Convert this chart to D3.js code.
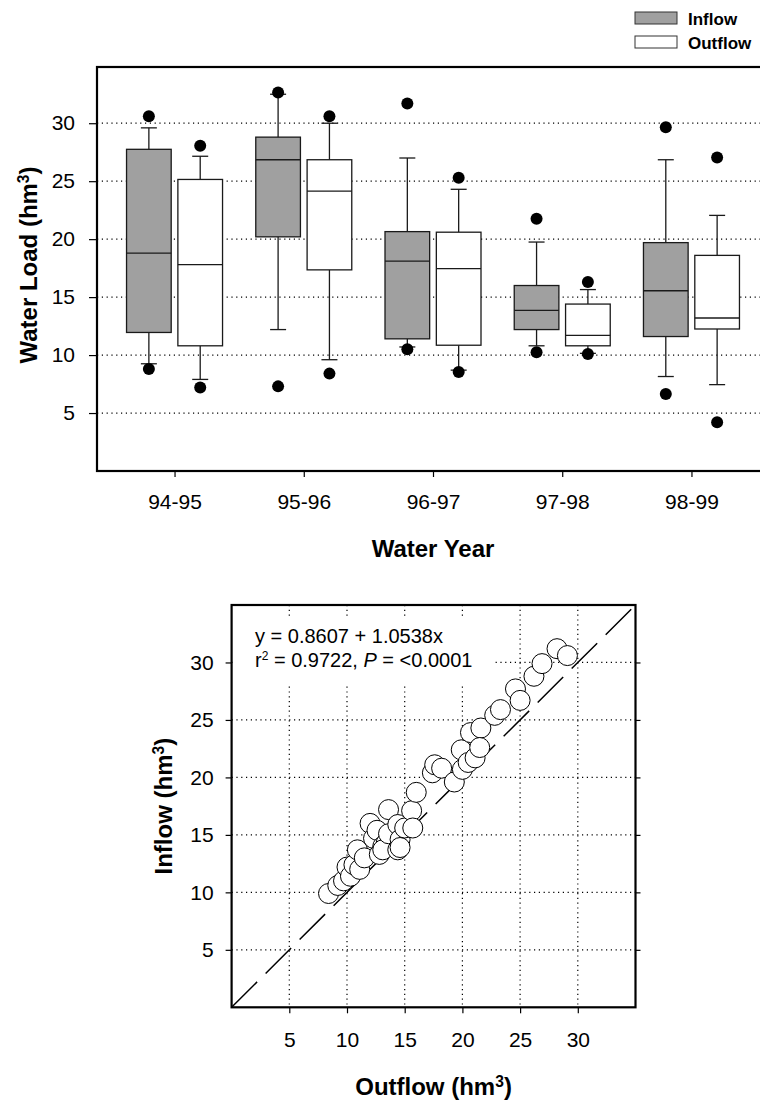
<!DOCTYPE html>
<html>
<head>
<meta charset="utf-8">
<script src="https://cdn.jsdelivr.net/npm/d3@7"></script>
<style>
    body { margin: 0; background: #fff; }
    svg { display: block; font-family: "Liberation Sans", Arial, Helvetica, sans-serif; }
    .tick text { font-size: 21px; fill: #000; }
    .axis line { stroke: #000; stroke-width: 1.2; }
    .axis-title { font-size: 24px; font-weight: bold; }
    .legend-label { font-size: 17px; font-weight: bold; }
    .grid { stroke: #000; stroke-width: 1.2; stroke-dasharray: 1.2 3.6; }
    .fit-text { font-size: 20px; }
</style>
</head>
<body>
<div id="figure"></div>
<script>
"use strict"

// --- data ---
const waterYears = ['94-95', '95-96', '96-97', '97-98', '98-99']
const seriesNames = ['Inflow', 'Outflow']
const loadTicks = [5, 10, 15, 20, 25, 30]
const flowTicks = [5, 10, 15, 20, 25, 30]

// per water year: outlier low, whisker low, q1, median, q3, whisker high, outlier high (hm3)
const inflowBox = [
    { outLo: 8.8,  whLo: 9.25,  q1: 11.95, med: 18.8,  q3: 27.75, whHi: 29.6,  outHi: 30.6 },
    { outLo: 7.3,  whLo: 12.2,  q1: 20.2,  med: 26.85, q3: 28.8,  whHi: 32.5,  outHi: 32.65 },
    { outLo: 10.5, whLo: 10.7,  q1: 11.4,  med: 18.1,  q3: 20.65, whHi: 27.0,  outHi: 31.7 },
    { outLo: 10.25, whLo: 10.8, q1: 12.2,  med: 13.85, q3: 16.0,  whHi: 19.75, outHi: 21.75 },
    { outLo: 6.65, whLo: 8.15,  q1: 11.6,  med: 15.55, q3: 19.7,  whHi: 26.85, outHi: 29.65 },
]
const outflowBox = [
    { outLo: 7.2,  whLo: 7.9,   q1: 10.8,  med: 17.8,  q3: 25.15, whHi: 27.15, outHi: 28.05 },
    { outLo: 8.4,  whLo: 9.6,   q1: 17.35, med: 24.15, q3: 26.85, whHi: 30.0,  outHi: 30.6 },
    { outLo: 8.55, whLo: 8.7,   q1: 10.85, med: 17.45, q3: 20.6,  whHi: 24.3,  outHi: 25.3 },
    { outLo: 10.1, whLo: 10.15, q1: 10.8,  med: 11.7,  q3: 14.4,  whHi: 15.65, outHi: 16.3 },
    { outLo: 4.2,  whLo: 7.45,  q1: 12.25, med: 13.2,  q3: 18.6,  whHi: 22.05, outHi: 27.05 },
]

// paired monthly loads (hm3): outflow on x, inflow on y
const outflowVals = [
    8.4, 9.2, 9.7, 10.0, 10.3, 10.6, 11.1, 10.9, 11.5, 12.0, 12.3, 12.6, 12.8, 13.1, 13.4,
    13.1, 14.4, 13.6, 13.6, 14.4, 14.6, 14.6, 15.0, 15.6, 15.7, 16.0,
    17.4, 17.6, 18.2, 19.3, 19.9, 20.0, 20.5, 20.7, 21.1, 21.6, 21.5, 22.8, 23.3,
    24.6, 25.0, 26.2, 26.9, 28.2, 29.1
]
const inflowVals = [
    9.9, 10.6, 11.0, 12.2, 11.4, 12.4, 12.0, 13.7, 13.0, 16.0, 14.7, 15.4, 13.3, 14.0, 14.3,
    13.7, 13.7, 17.2, 15.1, 15.9, 14.6, 13.9, 15.6, 17.1, 15.6, 18.7,
    20.4, 21.1, 20.8, 19.6, 22.4, 20.7, 21.3, 23.9, 21.7, 24.3, 22.6, 25.4, 25.9,
    27.7, 26.7, 28.8, 29.9, 31.2, 30.6
]
const fitEquation = 'y = 0.8607 + 1.0538x'

/*
    manages the two panels of the inflow/outflow figure
    * boxes: water load by water year
    * scatter: inflow vs outflow with 1:1 line
*/
const waterLoad = (function() {

    const svg = d3.select('#figure')
                    .append('svg')
                        .attr('width', 760)
                        .attr('height', 1103)

    // small helper: "Label (hm³)" with a raised 3
    function unitTitle(sel, label) {
        sel.append('tspan').text(`${ label } (hm`)
        sel.append('tspan').text('3').attr('font-size', '65%').attr('baseline-shift', 'super')
        sel.append('tspan').text(')')
    }

    function boxes() {
        const frame = { l: 97, r: 769, t: 67, b: 471 }
        const y = d3.scaleLinear().domain([0, 34.85]).range([frame.b, frame.t])
        const x = d3.scalePoint().domain(waterYears).range([frame.l, frame.r]).padding(0.6)
        const side = d3.scaleBand().domain(seriesNames).range([-48, 48]).paddingInner(0.13)
        const fills = { Inflow: '#a0a0a0', Outflow: '#fff' }
        const capW = 16

        const g = svg.append('g')

        // dotted grid
        g.selectAll('.grid')
            .data(loadTicks)
            .enter().append('line')
                .attr('class', 'grid')
                .attr('x1', frame.l).attr('x2', frame.r)
                .attr('y1', d => y(d)).attr('y2', d => y(d))

        const series = [
            { name: 'Inflow', stats: inflowBox },
            { name: 'Outflow', stats: outflowBox },
        ]

        series.forEach(s => {
            const items = s.stats.map((d, i) => Object.assign({ year: waterYears[i] }, d))
            const cx = d => x(d.year) + side(s.name) + side.bandwidth() / 2
            const grp = g.append('g').attr('class', `box-${ s.name }`)
            const ink = '#1a1a1a', inkW = 1.3

            const b = grp.selectAll('g').data(items).enter().append('g')

            // whiskers
            b.append('line')
                .attr('x1', cx).attr('x2', cx)
                .attr('y1', d => y(d.whLo)).attr('y2', d => y(d.q1))
                .attr('stroke', ink).attr('stroke-width', inkW)
            b.append('line')
                .attr('x1', cx).attr('x2', cx)
                .attr('y1', d => y(d.q3)).attr('y2', d => y(d.whHi))
                .attr('stroke', ink).attr('stroke-width', inkW)
            ;['whLo', 'whHi'].forEach(k => {
                b.append('line')
                    .attr('x1', d => cx(d) - capW / 2).attr('x2', d => cx(d) + capW / 2)
                    .attr('y1', d => y(d[k])).attr('y2', d => y(d[k]))
                    .attr('stroke', ink).attr('stroke-width', inkW)
            })

            // box + median
            b.append('rect')
                .attr('x', d => x(d.year) + side(s.name))
                .attr('width', side.bandwidth())
                .attr('y', d => y(d.q3))
                .attr('height', d => y(d.q1) - y(d.q3))
                .attr('fill', fills[s.name])
                .attr('stroke', ink).attr('stroke-width', inkW)
            b.append('line')
                .attr('x1', d => x(d.year) + side(s.name))
                .attr('x2', d => x(d.year) + side(s.name) + side.bandwidth())
                .attr('y1', d => y(d.med)).attr('y2', d => y(d.med))
                .attr('stroke', ink).attr('stroke-width', inkW)

            // outliers
            ;['outLo', 'outHi'].forEach(k => {
                b.append('circle')
                    .attr('cx', cx).attr('cy', d => y(d[k]))
                    .attr('r', 6)
                    .attr('fill', '#000')
            })
        })

        // frame
        g.append('rect')
            .attr('x', frame.l).attr('y', frame.t)
            .attr('width', frame.r - frame.l).attr('height', frame.b - frame.t)
            .attr('fill', 'none').attr('stroke', '#000').attr('stroke-width', 2.2)

        // axes
        g.append('g')
            .attr('class', 'axis')
            .attr('transform', `translate(${ frame.l }, 0)`)
            .call(d3.axisLeft(y).tickValues(loadTicks).tickSize(8).tickPadding(14).tickSizeOuter(0))
            .call(a => a.select('.domain').remove())
        g.append('g')
            .attr('class', 'axis')
            .attr('transform', `translate(0, ${ frame.b })`)
            .call(d3.axisBottom(x).tickSize(6).tickPadding(17).tickSizeOuter(0))
            .call(a => a.select('.domain').remove())

        // titles
        g.append('text')
            .attr('class', 'axis-title')
            .attr('text-anchor', 'middle')
            .attr('transform', `translate(37, ${ (frame.t + frame.b) / 2 - 4 }) rotate(-90)`)
            .call(unitTitle, 'Water Load')
        g.append('text')
            .attr('class', 'axis-title')
            .attr('text-anchor', 'middle')
            .attr('x', 433).attr('y', 557)
            .text('Water Year')

        // legend
        const legend = g.append('g')
        legend.selectAll('rect')
            .data(seriesNames)
            .enter().append('rect')
                .attr('x', 635).attr('y', (d, i) => 12 + i * 24)
                .attr('width', 42).attr('height', 12)
                .attr('fill', d => fills[d])
                .attr('stroke', '#333').attr('stroke-width', 1)
        legend.selectAll('text')
            .data(seriesNames)
            .enter().append('text')
                .attr('class', 'legend-label')
                .attr('x', 688).attr('y', (d, i) => 25 + i * 24)
                .text(d => d)
    }

    function scatter() {
        const frame = { l: 231.6, r: 635.5, t: 605, b: 1007.3 }
        const x = d3.scaleLinear().domain([0, 35]).range([frame.l, frame.r])
        const y = d3.scaleLinear().domain([0, 35]).range([frame.b, frame.t])
        const pts = outflowVals.map((v, i) => ({ out: v, inn: inflowVals[i] }))

        const g = svg.append('g')

        // grid
        g.selectAll('.gx')
            .data(flowTicks)
            .enter().append('line')
                .attr('class', 'grid')
                .attr('x1', d => x(d)).attr('x2', d => x(d))
                .attr('y1', frame.t).attr('y2', frame.b)
        g.selectAll('.gy')
            .data(flowTicks)
            .enter().append('line')
                .attr('class', 'grid')
                .attr('x1', frame.l).attr('x2', frame.r)
                .attr('y1', d => y(d)).attr('y2', d => y(d))

        // equation box masks the grid
        g.append('rect')
            .attr('x', frame.l + 1).attr('y', 617)
            .attr('width', 260).attr('height', 66)
            .attr('fill', '#fff')
        g.append('text')
            .attr('class', 'fit-text')
            .attr('x', 255).attr('y', 643)
            .text(fitEquation)
        const r2 = g.append('text')
            .attr('class', 'fit-text')
            .attr('x', 255).attr('y', 667)
        r2.append('tspan').text('r')
        r2.append('tspan').text('2').attr('font-size', '60%').attr('baseline-shift', 'super')
        r2.append('tspan').text(' = 0.9722, ')
        r2.append('tspan').text('P').attr('font-style', 'italic')
        r2.append('tspan').text(' = <0.0001')

        // 1:1 line
        g.append('line')
            .attr('x1', x(0)).attr('y1', y(0))
            .attr('x2', x(35)).attr('y2', y(35))
            .attr('stroke', '#000').attr('stroke-width', 1.5)
            .attr('stroke-dasharray', '36 12')

        // points
        g.selectAll('.pt')
            .data(pts)
            .enter().append('circle')
                .attr('class', 'pt')
                .attr('cx', d => x(d.out)).attr('cy', d => y(d.inn))
                .attr('r', 10)
                .attr('fill', '#fff').attr('stroke', '#000').attr('stroke-width', 1)

        // frame
        g.append('rect')
            .attr('x', frame.l).attr('y', frame.t)
            .attr('width', frame.r - frame.l).attr('height', frame.b - frame.t)
            .attr('fill', 'none').attr('stroke', '#000').attr('stroke-width', 2.2)

        // axes
        g.append('g')
            .attr('class', 'axis')
            .attr('transform', `translate(${ frame.l }, 0)`)
            .call(d3.axisLeft(y).tickValues(flowTicks).tickSize(6).tickPadding(12).tickSizeOuter(0))
            .call(a => a.select('.domain').remove())
        g.append('g')
            .attr('class', 'axis')
            .attr('transform', `translate(${ frame.r }, 0)`)
            .call(d3.axisRight(y).tickValues(flowTicks).tickSize(5).tickFormat('').tickSizeOuter(0))
            .call(a => a.select('.domain').remove())
        g.append('g')
            .attr('class', 'axis')
            .attr('transform', `translate(0, ${ frame.b })`)
            .call(d3.axisBottom(x).tickValues(flowTicks).tickSize(6).tickPadding(19).tickSizeOuter(0))
            .call(a => a.select('.domain').remove())

        // titles
        g.append('text')
            .attr('class', 'axis-title')
            .attr('text-anchor', 'middle')
            .attr('transform', `translate(172, ${ (frame.t + frame.b) / 2 }) rotate(-90)`)
            .call(unitTitle, 'Inflow')
        g.append('text')
            .attr('class', 'axis-title')
            .attr('text-anchor', 'middle')
            .attr('x', (frame.l + frame.r) / 2).attr('y', 1095)
            .call(unitTitle, 'Outflow')
    }

    return { boxes: boxes, scatter: scatter }

}())

waterLoad.boxes()
waterLoad.scatter()
</script>
</body>
</html>
